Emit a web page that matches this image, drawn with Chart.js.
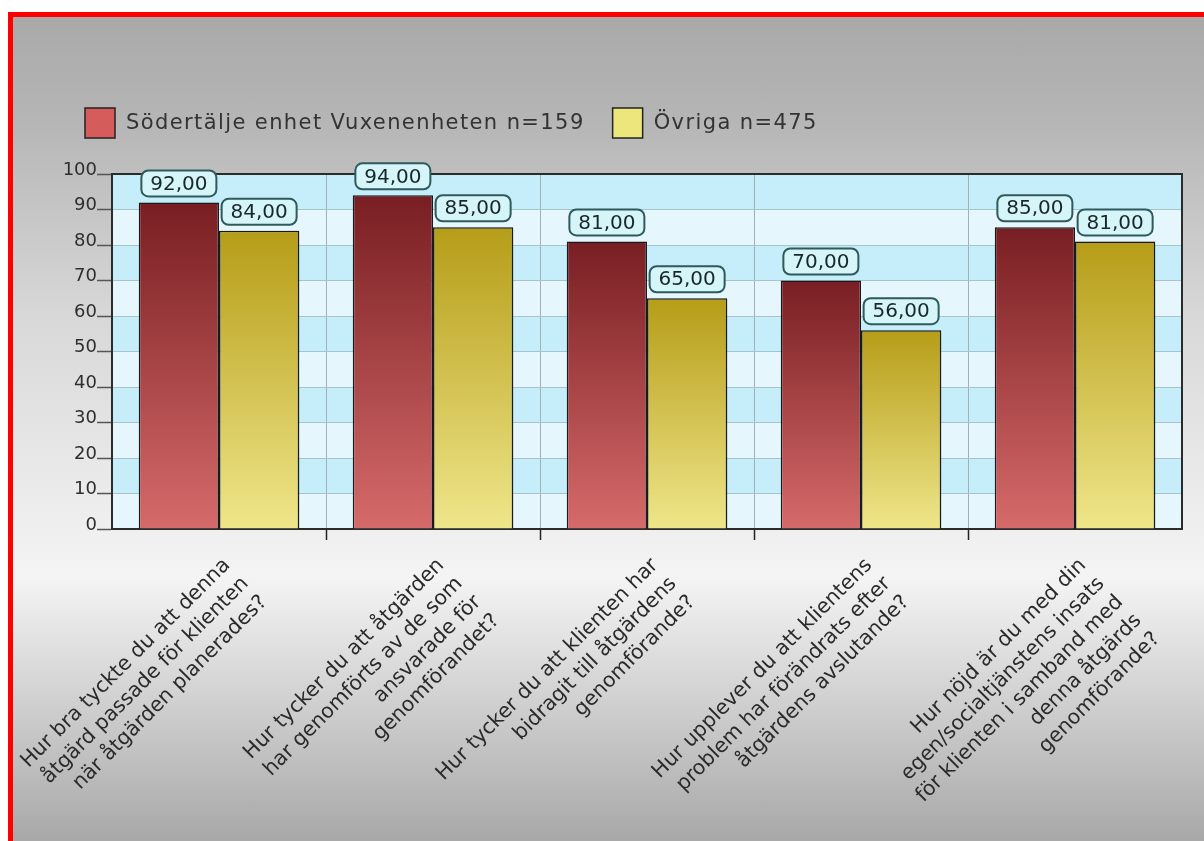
<!DOCTYPE html>
<html><head><meta charset="utf-8">
<script src="https://cdn.jsdelivr.net/npm/chart.js@4"></script>
<style>
html,body{margin:0;padding:0;background:#fff;overflow:hidden;width:1204px;height:841px;}
#frame{position:absolute;left:8px;top:12px;width:1260px;height:900px;border:5px solid #f00;
background:linear-gradient(to bottom,#a9a9a9 0px,#b5b5b5 100px,#d8d8d8 300px,#f4f4f4 560px,#a8a8a8 824px,#a0a0a0 900px);}
canvas{position:absolute;left:0;top:0;}
</style></head><body>
<div id="frame"><canvas id="c" width="1191" height="824"></canvas></div>
<script>
const categories = [
  ["Hur bra tyckte du att denna", "åtgärd passade för klienten", "när åtgärden planerades?"],
  ["Hur tycker du att åtgärden", "har genomförts av de som", "ansvarade för", "genomförandet?"],
  ["Hur tycker du att klienten har", "bidragit till åtgärdens", "genomförande?"],
  ["Hur upplever du att klientens", "problem har förändrats efter", "åtgärdens avslutande?"],
  ["Hur nöjd är du med din", "egen/socialtjänstens insats", "för klienten i samband med", "denna åtgärds", "genomförande?"]
];
const seriesNames = ["Södertälje enhet Vuxenenheten n=159", "Övriga n=475"];
const sodertaljeValues = [92, 94, 81, 70, 85];
const ovrigaValues = [84, 85, 65, 56, 81];
const yMin = 0, yMax = 100, yStep = 10;

const FONT = '"DejaVu Sans", Verdana, sans-serif';
const legendColors = ['#d65c5c', '#ede67c'];
const gradStops = [
  ['rgb(120,30,34)', 'rgb(214,106,106)'],
  ['rgb(182,157,24)', 'rgb(239,230,138)']
];

function barGradient(dsIndex) {
  return function(ctx) {
    const chart = ctx.chart;
    if (!chart.chartArea || ctx.type !== 'data') return legendColors[dsIndex];
    const y = chart.scales.y;
    const top = y.getPixelForValue(ctx.raw);
    const bottom = y.getPixelForValue(0);
    const g = chart.ctx.createLinearGradient(0, top, 0, bottom);
    g.addColorStop(0, gradStops[dsIndex][0]);
    g.addColorStop(1, gradStops[dsIndex][1]);
    return g;
  };
}

const decorPlugin = {
  id: 'decor',
  beforeDraw(chart) {
    const {ctx, chartArea: a, scales: {y}} = chart;
    ctx.letterSpacing = '0px';
    ctx.save();
    for (let v = yMin; v < yMax; v += yStep) {
      const y1 = y.getPixelForValue(v + yStep), y0 = y.getPixelForValue(v);
      const band = Math.round((v - yMin) / yStep);
      ctx.fillStyle = (band % 2 === 1) ? 'rgb(197,237,250)' : 'rgb(229,247,253)';
      ctx.fillRect(a.left, y1, a.right - a.left, y0 - y1);
    }
    ctx.restore();
  },
  beforeDatasetsDraw(chart) {
    const {ctx, chartArea: a} = chart;
    ctx.save();
    ctx.strokeStyle = '#2b2b2b';
    ctx.lineWidth = 2;
    ctx.strokeRect(a.left, a.top, a.right - a.left, a.bottom - a.top);
    ctx.restore();
  },
  beforeDatasetDraw(chart, args) {
    const ctx = chart.ctx;
    ctx.save();
    if (args.index === 1) {
      ctx.shadowColor = 'rgba(20,30,50,0.38)';
      ctx.shadowBlur = 9;
      ctx.shadowOffsetX = 5;
      ctx.shadowOffsetY = 3;
    }
  },
  afterDatasetDraw(chart) {
    chart.ctx.restore();
  },
  afterDatasetsDraw(chart) {
    const ctx = chart.ctx;
    ctx.save();
    ctx.letterSpacing = '0px';
    ctx.font = '20px ' + FONT;
    ctx.textAlign = 'center';
    ctx.textBaseline = 'middle';
    chart.data.datasets.forEach((ds, di) => {
      const meta = chart.getDatasetMeta(di);
      meta.data.forEach((bar, i) => {
        const txt = ds.data[i].toFixed(2).replace('.', ',');
        const w = 75, h = 26;
        const x = bar.x - w / 2, yb = bar.y - 6 - h;
        ctx.beginPath();
        ctx.roundRect(x, yb, w, h, 7);
        ctx.fillStyle = 'rgb(214,245,249)';
        ctx.fill();
        ctx.lineWidth = 2;
        ctx.strokeStyle = '#2e5a5c';
        ctx.stroke();
        ctx.fillStyle = '#18282a';
        ctx.fillText(txt, bar.x, yb + h / 2 + 1);
      });
    });
    ctx.restore();
  },
  afterDraw(chart) {
    const ctx = chart.ctx;
    ctx.save();
    ctx.font = '21px ' + FONT;
    ctx.letterSpacing = '1.4px';
    ctx.textBaseline = 'middle';
    let x = 72;
    const y = 91, s = 30;
    chart.data.datasets.forEach((ds, i) => {
      ctx.fillStyle = legendColors[i];
      ctx.fillRect(x, y, s, s);
      ctx.lineWidth = 1.5;
      ctx.strokeStyle = '#222';
      ctx.strokeRect(x, y, s, s);
      ctx.fillStyle = '#333';
      ctx.fillText(ds.label, x + s + 11, y + s / 2 + 1);
      x += s + 11 + ctx.measureText(ds.label).width + 28;
    });
    ctx.restore();
    ctx.letterSpacing = '0px';
  }
};

new Chart(document.getElementById('c'), {
  type: 'bar',
  data: {
    labels: categories,
    datasets: [
      { label: seriesNames[0], data: sodertaljeValues, backgroundColor: barGradient(0),
        borderColor: '#1a1a1a', borderWidth: 1.5, categoryPercentage: 0.75, barPercentage: 1 },
      { label: seriesNames[1], data: ovrigaValues, backgroundColor: barGradient(1),
        borderColor: '#1a1a1a', borderWidth: 1.5, categoryPercentage: 0.75, barPercentage: 1 }
    ]
  },
  options: {
    responsive: false,
    animation: false,
    layout: { padding: { top: 157, left: 0, right: 22, bottom: 0 } },
    plugins: { legend: { display: false }, tooltip: { enabled: false } },
    scales: {
      x: {
        grid: {
          offset: true, color: '#a0b2b8', lineWidth: 1, tickLength: 11, tickWidth: 1.5,
          tickColor: c => (c.type === 'tick' && c.index > 0) ? '#222' : 'rgba(0,0,0,0)'
        },
        border: { display: true, color: '#2b2b2b', width: 2 },
        ticks: {
          autoSkip: false, maxRotation: 45, minRotation: 45, padding: 13, labelOffset: 8,
          color: '#2a2a2a', font: { family: FONT, size: 20.5, lineHeight: 1.27 }
        },
        afterFit(s) { s.paddingLeft = 0; s.paddingRight = 0; s.height = 312; }
      },
      y: {
        min: yMin, max: yMax,
        ticks: { stepSize: yStep, padding: 0, labelOffset: -4, color: '#2e2e2e', font: { family: FONT, size: 18 } },
        grid: { color: '#a6c4cd', lineWidth: 1, tickLength: 15, tickColor: '#555', tickWidth: 1.5 },
        border: { display: true, color: '#2b2b2b', width: 2 },
        afterFit(s) { s.width = 99; }
      }
    }
  },
  plugins: [decorPlugin]
});
</script>
</body></html>
